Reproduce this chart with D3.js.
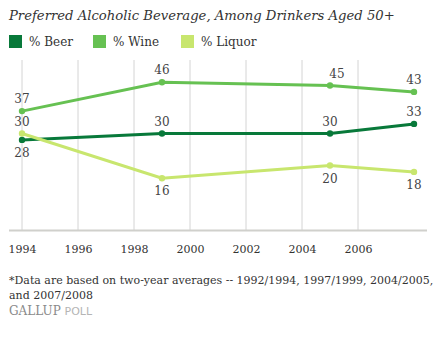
<!DOCTYPE html>
<html>
<head>
<meta charset="utf-8">
<script src="https://cdn.jsdelivr.net/npm/d3@7"></script>
<style>
  body { margin: 0; background: #fff; }
</style>
</head>
<body>
<svg id="chart"></svg>
<script>
var w = 434;
var h = 339;
var serif = "'DejaVu Serif', 'Liberation Serif', serif";

// survey years (two-year averages) and share of drinkers preferring each
var years = [1994, 1999, 2005, 2008];
var beer = [28, 30, 30, 33];
var wine = [37, 46, 45, 43];
var liquor = [30, 16, 20, 18];
var seriesNames = ["% Beer", "% Wine", "% Liquor"];
var colors = ["#08793a", "#66c152", "#c8e66e"];
var tickYears = [1994, 1996, 1998, 2000, 2002, 2004, 2006];

// which side of the point each value label sits on
var labelSide = [
  ["below", "above", "above", "above"],
  ["above", "above", "above", "above"],
  ["above", "below", "below", "below"]
];

var series = [beer, wine, liquor].map(function(vals, i) {
  return {
    name: seriesNames[i],
    color: colors[i],
    points: vals.map(function(v, j) { return {year: years[j], value: v, side: labelSide[i][j]}; })
  };
});

var svg = d3.select("#chart")
  .attr("width", w)
  .attr("height", h)
  .style("font-family", serif);

var x = d3.scaleLinear()
  .domain([1994, 2008])
  .range([22, 414]);

var y = d3.scaleLinear()
  .domain([0, 50])
  .range([229.5, 69.5]);

svg.append("text")
  .attr("x", 9)
  .attr("y", 20)
  .style("font-family", serif)
  .style("font-style", "italic")
  .style("font-size", "13.2px")
  .attr("fill", "#333")
  .text("Preferred Alcoholic Beverage, Among Drinkers Aged 50+");

// legend
var legendX = [9, 93, 181];
var legend = svg.selectAll(".legend")
  .data(series)
  .enter()
  .append("g")
  .attr("class", "legend")
  .attr("transform", function(d, i) { return "translate(" + legendX[i] + ",35)"; });

legend.append("rect")
  .attr("width", 13)
  .attr("height", 13)
  .attr("fill", function(d) { return d.color; });

legend.append("text")
  .attr("x", 20)
  .attr("y", 11)
  .style("font-family", serif)
  .style("font-size", "12px")
  .attr("fill", "#333")
  .text(function(d) { return d.name; });

// vertical grid
svg.selectAll(".grid")
  .data(tickYears)
  .enter()
  .append("line")
  .attr("class", "grid")
  .attr("x1", function(d) { return x(d); })
  .attr("x2", function(d) { return x(d); })
  .attr("y1", 60)
  .attr("y2", 230)
  .attr("stroke", "#d4d4d4")
  .attr("stroke-width", 1);

var xAxis = svg.append("g")
  .attr("transform", "translate(0,230)")
  .call(d3.axisBottom(x).tickValues(tickYears).tickFormat(d3.format("d")).tickSize(0).tickPadding(15));

xAxis.select(".domain").remove();
xAxis.selectAll("text")
  .style("font-family", serif)
  .style("font-size", "11px")
  .attr("fill", "#333");

svg.append("line")
  .attr("x1", 9)
  .attr("x2", 427)
  .attr("y1", 230.5)
  .attr("y2", 230.5)
  .attr("stroke", "#d0d0cc")
  .attr("stroke-width", 2);

var line = d3.line()
  .x(function(d) { return x(d.year); })
  .y(function(d) { return y(d.value); });

var groups = svg.selectAll(".series")
  .data(series)
  .enter()
  .append("g")
  .attr("class", "series");

groups.append("path")
  .attr("d", function(d) { return line(d.points); })
  .attr("fill", "none")
  .attr("stroke", function(d) { return d.color; })
  .attr("stroke-width", 3);

groups.selectAll("circle")
  .data(function(d) { return d.points.map(function(p) { return {p: p, color: d.color}; }); })
  .enter()
  .append("circle")
  .attr("cx", function(d) { return x(d.p.year); })
  .attr("cy", function(d) { return y(d.p.value); })
  .attr("r", 3.2)
  .attr("fill", function(d) { return d.color; });

groups.selectAll(".val")
  .data(function(d) { return d.points; })
  .enter()
  .append("text")
  .attr("class", "val")
  .attr("x", function(d) { return x(d.year) + (d.year === 2005 && d.value === 45 ? 7 : 0); })
  .attr("y", function(d) { return y(d.value) + (d.side === "above" ? -8 : 17); })
  .attr("text-anchor", "middle")
  .style("font-family", serif)
  .style("font-size", "12px")
  .attr("fill", "#444")
  .text(function(d) { return d.value; });

// footnote
svg.append("text")
  .attr("x", 9)
  .attr("y", 284)
  .style("font-family", serif)
  .style("font-size", "11px")
  .attr("fill", "#333")
  .text("*Data are based on two-year averages -- 1992/1994, 1997/1999, 2004/2005,");

svg.append("text")
  .attr("x", 9)
  .attr("y", 299)
  .style("font-family", serif)
  .style("font-size", "11px")
  .attr("fill", "#333")
  .text("and 2007/2008");

var logo = svg.append("text")
  .attr("x", 9)
  .attr("y", 315)
  .style("font-family", serif)
  .style("font-size", "12px");

logo.append("tspan")
  .attr("fill", "#8a8a8a")
  .text("GALLUP ");

logo.append("tspan")
  .style("font-family", "'DejaVu Sans', sans-serif")
  .style("font-size", "11px")
  .attr("fill", "#b5b5b5")
  .text("POLL");
</script>
</body>
</html>
